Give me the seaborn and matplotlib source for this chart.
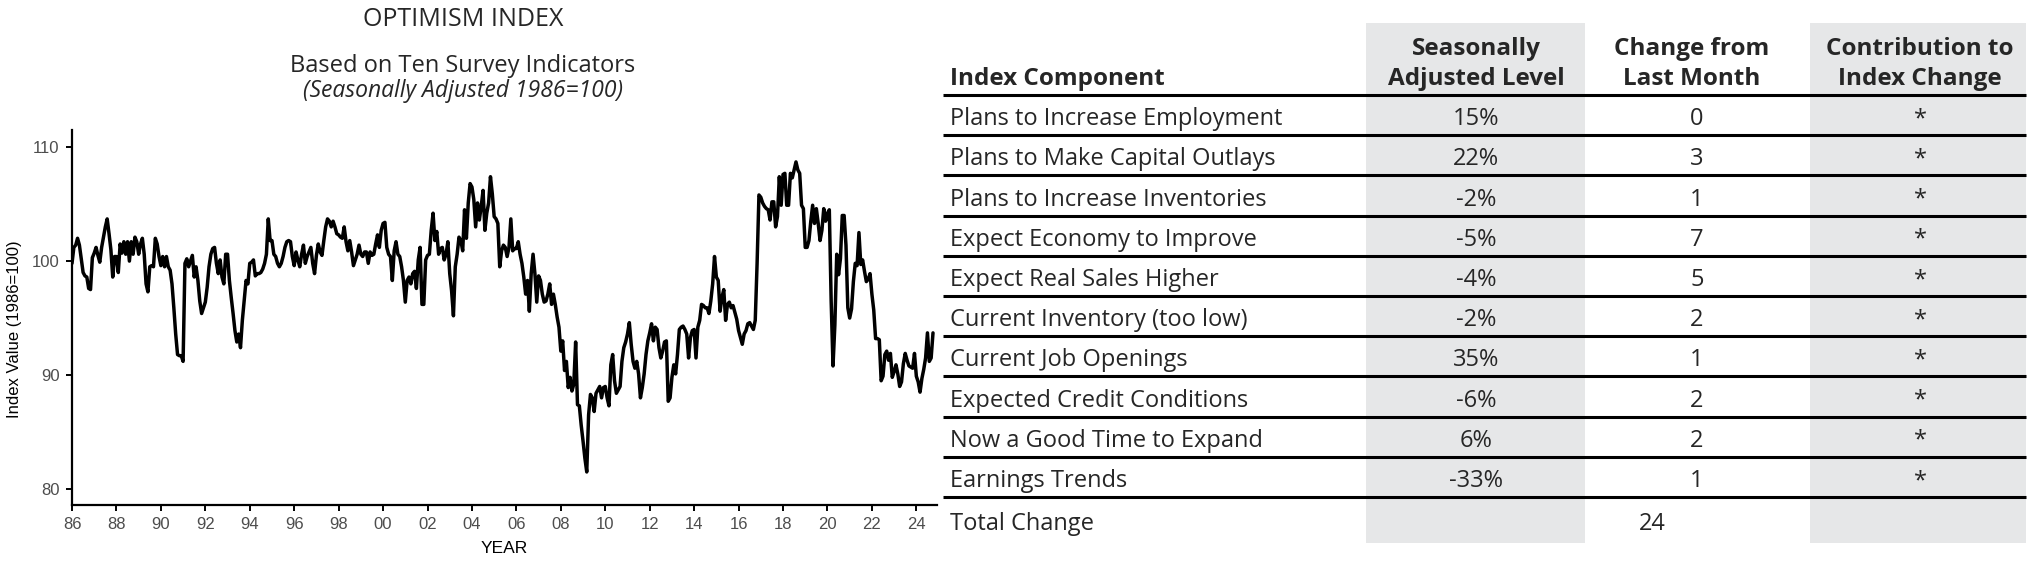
import numpy as np
import pandas as pd
import matplotlib
matplotlib.use("Agg")
import matplotlib.pyplot as plt
from matplotlib.patches import Rectangle
import seaborn as sns

# monthly optimism index, Jan 1986 - Oct 2024
start_year = 1986
optimism = [
    99.8, 101.2, 101.4, 102.0, 101.4, 100.2, 99.0, 98.7, 98.6, 97.6, 97.5, 100.3,     # 1986
    100.7, 101.2, 100.5, 99.9, 101.2, 102.1, 103.0, 103.7, 102.4, 101.0, 98.6, 100.4,  # 1987
    100.4, 99.0, 101.5, 100.7, 101.7, 100.6, 101.7, 100.0, 101.7, 100.6, 102.1, 101.7,  # 1988
    100.6, 101.5, 102.0, 100.6, 98.0, 97.3, 99.5, 99.6, 99.5, 102.0, 101.5, 100.4,     # 1989
    99.6, 100.4, 99.5, 100.4, 99.5, 99.2, 98.0, 95.9, 93.6, 91.8, 91.7, 91.7,          # 1990
    91.2, 99.8, 100.2, 99.5, 100.0, 100.5, 98.6, 99.5, 98.3, 96.5, 95.4, 95.9,         # 1991
    96.4, 97.7, 99.5, 100.6, 101.1, 101.2, 99.8, 98.9, 100.1, 98.6, 98.0, 100.6,       # 1992
    100.6, 98.3, 96.8, 95.4, 93.9, 92.9, 93.6, 92.4, 94.8, 96.5, 98.3, 98.0,           # 1993
    99.8, 99.9, 100.1, 98.7, 98.9, 98.9, 99.0, 99.3, 99.8, 100.6, 103.7, 101.8,        # 1994
    101.8, 100.6, 100.4, 99.8, 99.5, 99.8, 100.4, 101.2, 101.7, 101.8, 101.7, 100.4,   # 1995
    99.6, 100.8, 100.1, 99.5, 100.6, 101.4, 99.8, 100.4, 100.8, 101.2, 99.8, 98.9,     # 1996
    100.5, 101.5, 100.8, 100.5, 101.8, 103.0, 103.7, 103.5, 103.0, 103.5, 103.0, 102.4,  # 1997
    102.3, 102.1, 102.0, 103.0, 101.7, 100.9, 101.8, 100.8, 99.6, 100.1, 100.6, 101.4,  # 1998
    100.6, 100.4, 100.8, 100.8, 99.8, 100.8, 100.5, 100.6, 101.5, 102.3, 101.2, 102.7,  # 1999
    103.3, 103.4, 101.2, 100.6, 100.4, 98.3, 100.9, 101.7, 100.6, 100.4, 99.5, 98.3,   # 2000
    96.4, 98.3, 98.6, 98.0, 98.9, 99.1, 97.6, 100.1, 101.2, 96.2, 96.2, 100.1,         # 2001
    100.5, 100.6, 102.7, 104.2, 101.8, 102.6, 100.6, 101.1, 101.2, 100.1, 100.6, 101.7,  # 2002
    98.9, 97.4, 95.2, 99.5, 100.6, 102.1, 101.8, 100.9, 104.5, 102.0, 105.1, 106.8,    # 2003
    106.5, 105.4, 103.0, 105.1, 103.6, 104.8, 106.2, 102.7, 104.2, 105.1, 107.4, 105.9,  # 2004
    103.9, 103.7, 103.3, 99.5, 100.9, 101.4, 101.2, 100.4, 101.2, 103.7, 100.9, 101.1,  # 2005
    101.1, 101.7, 100.6, 99.8, 98.6, 97.1, 98.3, 95.6, 98.9, 100.6, 98.9, 96.4,        # 2006
    98.7, 98.3, 97.1, 96.4, 96.5, 97.1, 98.0, 96.2, 97.1, 96.2, 95.1, 94.2,            # 2007
    92.1, 93.0, 90.4, 91.2, 88.9, 89.8, 88.6, 89.2, 92.9, 87.4, 87.3, 85.6,            # 2008
    84.2, 82.7, 81.5, 86.5, 88.3, 88.0, 86.8, 88.4, 88.7, 89.0, 88.0, 88.9,            # 2009
    89.0, 88.0, 87.3, 90.9, 91.8, 89.5, 88.4, 88.7, 89.0, 91.2, 92.4, 92.9,            # 2010
    93.6, 94.6, 92.7, 91.2, 90.6, 91.2, 90.1, 88.0, 88.9, 90.1, 91.8, 93.0,            # 2011
    93.7, 94.5, 93.0, 94.2, 94.0, 92.4, 91.5, 92.1, 92.9, 93.0, 87.7, 88.0,            # 2012
    89.8, 90.9, 90.1, 91.8, 94.0, 94.2, 94.3, 94.0, 93.6, 91.5, 93.3, 93.9,            # 2013
    94.0, 91.5, 94.2, 94.8, 96.2, 96.1, 95.9, 95.9, 95.4, 96.5, 98.0, 100.4,           # 2014
    98.6, 98.3, 95.6, 96.8, 97.5, 94.8, 96.2, 96.4, 95.9, 96.1, 95.5, 94.9,            # 2015
    93.9, 93.3, 92.7, 93.6, 93.9, 94.5, 94.6, 94.3, 94.0, 94.8, 99.8, 105.8,           # 2016
    105.6, 105.1, 104.8, 104.6, 104.5, 103.6, 105.2, 105.2, 103.0, 103.9, 107.4, 104.9,  # 2017
    107.6, 107.7, 104.9, 104.9, 107.7, 107.3, 108.0, 108.7, 108.0, 107.7, 104.9, 104.6,  # 2018
    101.2, 101.2, 101.8, 103.5, 104.9, 103.3, 104.6, 103.3, 101.8, 102.7, 104.6, 103.5,  # 2019
    104.2, 104.5, 96.5, 90.8, 94.4, 100.6, 98.8, 100.2, 104.0, 104.0, 101.4, 95.9,     # 2020
    95.0, 95.8, 98.2, 99.8, 99.6, 102.5, 99.7, 100.1, 99.1, 98.2, 98.4, 98.9,          # 2021
    97.1, 95.7, 93.2, 93.2, 93.1, 89.5, 89.9, 91.8, 92.1, 91.3, 91.9, 89.8,            # 2022
    90.3, 90.9, 90.1, 89.0, 89.4, 91.0, 91.9, 91.3, 90.8, 90.7, 90.6, 91.9,            # 2023
    89.9, 89.4, 88.5, 89.7, 90.5, 91.5, 93.7, 91.2, 91.5, 93.7,                        # 2024
]

year_ticks = list(range(1986, 2025, 2))
year_labels = [str(y)[2:] for y in year_ticks]
value_ticks = [80, 90, 100, 110]

# table on the right
components = ['Plans to Increase Employment', 'Plans to Make Capital Outlays',
              'Plans to Increase Inventories', 'Expect Economy to Improve',
              'Expect Real Sales Higher', 'Current Inventory (too low)',
              'Current Job Openings', 'Expected Credit Conditions',
              'Now a Good Time to Expand', 'Earnings Trends']
levels = ['15%', '22%', '-2%', '-5%', '-4%', '-2%', '35%', '-6%', '6%', '-33%']
changes = ['0', '3', '1', '7', '5', '2', '1', '2', '2', '1']
contributions = ['*'] * 10
total_change = '24'

sns.set_theme(style="ticks")
plt.rcParams['font.family'] = ['Open Sans', 'DejaVu Sans']
axis_font = ['Liberation Sans', 'DejaVu Sans']

W, H = 2033, 564
fig = plt.figure(figsize=(W / 100, H / 100), dpi=100)

# ---- line chart
ax = fig.add_axes([72 / W, 1 - 505 / H, (937 - 72) / W, (505 - 130) / H])
df = pd.DataFrame({'year': start_year + np.arange(len(optimism)) / 12,
                   'index': optimism})
sns.lineplot(data=df, x='year', y='index', ax=ax, color='black', linewidth=2.5)
ax.set_xlim(1986, 2024.93)
ax.set_ylim(78.6, 111.5)
ax.set_xticks(year_ticks)
ax.set_xticklabels(year_labels)
ax.set_yticks(value_ticks)
ax.set_yticklabels([str(v) for v in value_ticks])
sns.despine(ax=ax)
for s in ['left', 'bottom']:
    ax.spines[s].set_linewidth(1.6)
    ax.spines[s].set_color('black')
ax.tick_params(length=4, width=1.4, colors='black', labelcolor='#4d4d4d', labelsize=12)
ax.tick_params(axis='x', pad=4.5)
ax.tick_params(axis='y', pad=5)
for lab in ax.get_xticklabels() + ax.get_yticklabels():
    lab.set_family(axis_font)
ax.set_xlabel('YEAR', fontsize=12.5, family=axis_font, color='black')
ax.xaxis.set_label_coords(0.5, -(541 - 505) / 375)
ax.set_ylabel('Index Value (1986=100)', fontsize=12, family=axis_font, color='black')
ax.yaxis.set_label_coords((22 - 72) / 865, 0.47)

fig.text(463 / W, 1 - 26 / H, 'OPTIMISM INDEX', ha='center', va='baseline', fontsize=18)
fig.text(463 / W, 1 - 72 / H, 'Based on Ten Survey Indicators', ha='center', va='baseline', fontsize=17)
fig.text(463 / W, 1 - 97 / H, '(Seasonally Adjusted 1986=100)', ha='center', va='baseline',
         fontsize=16.5, style='italic')

# ---- table (pixel coordinates)
tab = fig.add_axes([0, 0, 1, 1])
tab.set_xlim(0, W)
tab.set_ylim(H, 0)
tab.axis('off')
tab.patch.set_alpha(0)

gray = '#e6e7e8'
tab.add_patch(Rectangle((1366, 23), 1585 - 1366, 543 - 23, color=gray, lw=0, zorder=0))
tab.add_patch(Rectangle((1810, 23), 2026 - 1810, 543 - 23, color=gray, lw=0, zorder=0))

row_lines = 95 + 40.2 * np.arange(len(components) + 1)
tab.hlines(row_lines, 943, 2026, color='black', lw=2.2, zorder=2)

x_name, x_level, x_change, x_contrib = 950, 1476, 1697, 1920
fs = 17
tab.text(x_name, 85, 'Index Component', fontsize=17.5, weight='bold', va='baseline')
for x, (l1, l2) in zip([x_level, 1692, x_contrib],
                       [('Seasonally', 'Adjusted Level'), ('Change from', 'Last Month'),
                        ('Contribution to', 'Index Change')]):
    tab.text(x, 55, l1, fontsize=17.5, weight='bold', ha='center', va='baseline')
    tab.text(x, 85, l2, fontsize=17.5, weight='bold', ha='center', va='baseline')

for i, name in enumerate(components):
    yb = row_lines[i + 1] - 10
    tab.text(x_name, yb, name, fontsize=fs, va='baseline')
    tab.text(x_level, yb, levels[i], fontsize=fs, ha='center', va='baseline')
    tab.text(x_change, yb, changes[i], fontsize=fs, ha='center', va='baseline')
    tab.text(x_contrib, yb, contributions[i], fontsize=fs, ha='center', va='baseline')

tab.text(x_name, 530, 'Total Change', fontsize=fs, va='baseline')
tab.text(1652, 530, total_change, fontsize=fs, ha='center', va='baseline')

fig.savefig('out.png', dpi=100)
